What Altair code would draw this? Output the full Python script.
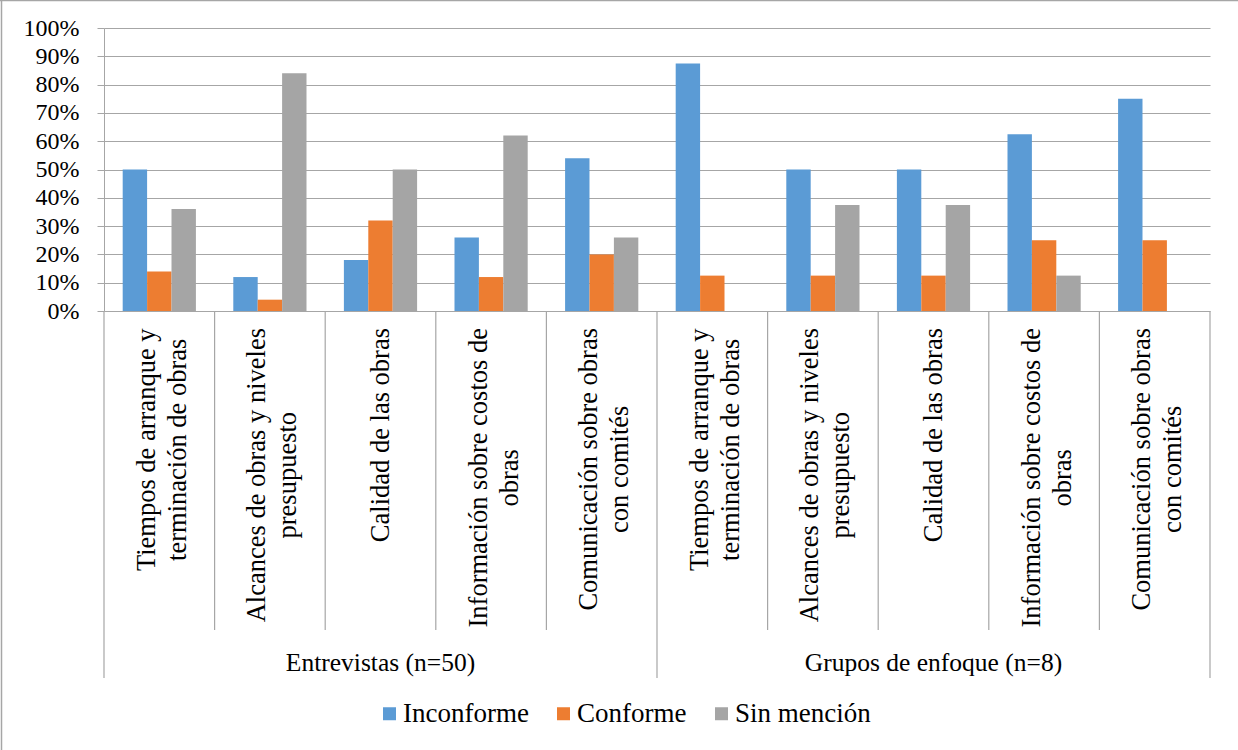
import altair as alt
import pandas as pd

# ---- data ----
groups = ["Entrevistas (n=50)", "Grupos de enfoque (n=8)"]
topic_lines = [
    ["Tiempos de arranque y", "terminación de obras"],
    ["Alcances de obras y niveles", "presupuesto"],
    ["Calidad de las obras"],
    ["Información sobre costos de", "obras"],
    ["Comunicación sobre obras", "con comités"],
]
series_names = ["Inconforme", "Conforme", "Sin mención"]
inconforme = [0.50, 0.12, 0.18, 0.26, 0.54, 0.875, 0.50, 0.50, 0.625, 0.75]
conforme = [0.14, 0.04, 0.32, 0.12, 0.20, 0.125, 0.125, 0.125, 0.25, 0.25]
sin_mencion = [0.36, 0.84, 0.50, 0.62, 0.26, 0.0, 0.375, 0.375, 0.125, 0.0]
colors = ["#5B9BD5", "#ED7D31", "#A5A5A5"]
y_ticks = [i / 10 for i in range(11)]

FONT = "Liberation Serif"
GRID = "#A6A6A6"

# Times-compatible glyph widths (1/1000 em) to centre wrapped rotated labels
GLYPH = {' ': 250, 'A': 722, 'C': 667, 'I': 333, 'T': 611, 'a': 444, 'b': 500,
         'c': 444, 'd': 500, 'e': 444, 'f': 333, 'i': 278, 'l': 278, 'm': 778,
         'n': 500, 'o': 500, 'p': 500, 'q': 500, 'r': 333, 's': 389, 't': 278,
         'u': 500, 'v': 500, 'y': 500, 'ó': 500, 'é': 444}
CAT_FS = 26.5
LINE_H = 31


def text_w(s, fs):
    return sum(GLYPH.get(ch, 500) for ch in s) * fs / 1000.0


# ---- tables ----
n_topics = len(topic_lines)
cats = list(range(1, 2 * n_topics + 1))
rows = []
for i, c in enumerate(cats):
    for s, vals in zip(series_names, [inconforme, conforme, sin_mencion]):
        rows.append({"cat": c, "series": s, "value": vals[i]})
bars_df = pd.DataFrame(rows)

lab_rows = []
for i, c in enumerate(cats):
    lines = topic_lines[i % n_topics]
    w = max(text_w(l, CAT_FS) for l in lines)
    lab_rows.append({"cat": c, "label": "|".join(lines), "n": len(lines), "ypos": 300 + w / 2})
lab_df = pd.DataFrame(lab_rows)
lab2_df = lab_df[lab_df["n"] == 2]
lab1_df = lab_df[lab_df["n"] == 1]

grp_df = pd.DataFrame({"cat": [3, 8], "group": groups})
short_sep = pd.DataFrame({"cat": [c for c in cats if (c - 1) % n_topics != 0]})
long_sep = pd.DataFrame({"cat": [c for c in cats if (c - 1) % n_topics == 0]})
end_sep = pd.DataFrame({"cat": [cats[-1]]})

xscale = alt.Scale(domain=cats, paddingInner=0, paddingOuter=0)

bars = alt.Chart(bars_df).mark_bar().encode(
    x=alt.X("cat:O", scale=xscale, axis=None),
    xOffset=alt.XOffset("series:N", sort=series_names,
                        scale=alt.Scale(domain=series_names, paddingInner=0, paddingOuter=0.766)),
    y=alt.Y("value:Q", scale=alt.Scale(domain=[0, 1], nice=False),
            axis=alt.Axis(values=y_ticks, format=".0%", title=None,
                          labelFont=FONT, labelFontSize=24, labelColor="black",
                          labelPadding=18, tickSize=7, tickColor=GRID,
                          domainColor=GRID, gridColor=GRID, gridWidth=1.2)),
    color=alt.Color("series:N", sort=series_names,
                    scale=alt.Scale(domain=series_names, range=colors),
                    legend=alt.Legend(orient="none", legendX=272, legendY=672,
                                      direction="horizontal", columns=3, title=None,
                                      symbolType="square", symbolSize=169,
                                      symbolStrokeWidth=0, labelFont=FONT,
                                      labelFontSize=27, labelColor="black",
                                      labelOffset=0, columnPadding=21)),
)


def cat_text(df, dy):
    return alt.Chart(df).mark_text(
        angle=270, align="center", baseline="middle", lineBreak="|", lineHeight=LINE_H,
        font=FONT, fontSize=CAT_FS, color="black", dy=dy
    ).encode(
        x=alt.X("cat:O", scale=xscale, axis=None),
        y=alt.Y("ypos:Q", scale=None),
        text="label:N",
    )


cat_labels2 = cat_text(lab2_df, -12.5)
cat_labels1 = cat_text(lab1_df, 0)

grp_labels = alt.Chart(grp_df).mark_text(
    align="center", baseline="middle", font=FONT, fontSize=25.5, color="black"
).encode(
    x=alt.X("cat:O", scale=xscale, axis=None),
    y=alt.value(635),
    text="group:N",
)

sep_short = alt.Chart(short_sep).mark_rule(color=GRID, strokeWidth=1.2).encode(
    x=alt.X("cat:O", scale=xscale, axis=None, bandPosition=0),
    y=alt.value(283), y2=alt.value(602),
)
sep_long = alt.Chart(long_sep).mark_rule(color=GRID, strokeWidth=1.2).encode(
    x=alt.X("cat:O", scale=xscale, axis=None, bandPosition=0),
    y=alt.value(283), y2=alt.value(650),
)
sep_end = alt.Chart(end_sep).mark_rule(color=GRID, strokeWidth=1.2).encode(
    x=alt.X("cat:O", scale=xscale, axis=None, bandPosition=1),
    y=alt.value(283), y2=alt.value(650),
)

frame_top = alt.Chart(pd.DataFrame({"k": [0]})).mark_rule(color=GRID, strokeWidth=1.5).encode(
    x=alt.value(-104), x2=alt.value(1134), y=alt.value(-27.5)
)
frame_left = alt.Chart(pd.DataFrame({"k": [0]})).mark_rule(color=GRID, strokeWidth=1.5).encode(
    x=alt.value(-102.5), y=alt.value(-28), y2=alt.value(722)
)

chart = alt.layer(
    bars, sep_short, sep_long, sep_end, cat_labels2, cat_labels1, grp_labels,
    frame_top, frame_left
).resolve_scale(y="independent").properties(
    width=1106, height=283,
    background="white",
    autosize=alt.AutoSizeParams(type="none"),
    padding={"left": 104, "top": 28, "right": 28, "bottom": 439},
).configure(font=FONT).configure_view(strokeWidth=0)

chart.save("out.html", embed_options={"renderer": "svg", "actions": False})
